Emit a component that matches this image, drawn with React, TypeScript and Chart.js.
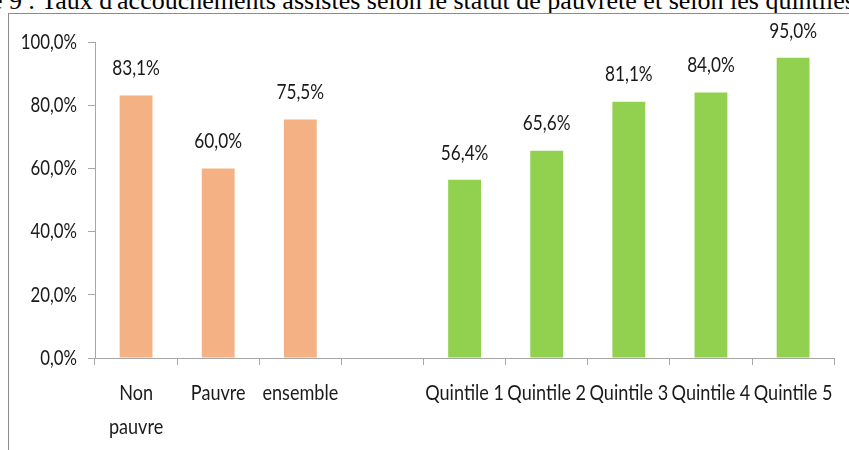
import React, { useEffect, useRef } from "react";
import { Chart, registerables } from "chart.js";

Chart.register(...registerables);

const categories: (string | string[])[] = [
  ["Non", "pauvre"],
  "Pauvre",
  "ensemble",
  "",
  "Quintile 1",
  "Quintile 2",
  "Quintile 3",
  "Quintile 4",
  "Quintile 5",
];
const values: (number | null)[] = [83.1, 60.0, 75.5, null, 56.4, 65.6, 81.1, 84.0, 95.0];
const barColors = ["#F4B183", "#F4B183", "#F4B183", "#F4B183", "#92D050", "#92D050", "#92D050", "#92D050", "#92D050"];
const yTicks = [0, 20, 40, 60, 80, 100];
const titlePrefix = "Graphique 9";
const titleText = ": Taux d'accouchements assistés selon le statut de pauvreté et selon les quintiles de bien-être";

const FONT = "Lato, 'DejaVu Sans', sans-serif";
const TEXT_COLOR = "#1a1a1a";

const fmt = (v: number) => v.toFixed(1).replace(".", ",") + "%";

function narrowText(ctx: CanvasRenderingContext2D, text: string, x: number, y: number, sx: number, align: CanvasTextAlign) {
  ctx.save();
  ctx.translate(x, y);
  ctx.scale(sx, 1);
  ctx.textAlign = align;
  ctx.fillText(text, 0, 0);
  ctx.restore();
}

const textPlugin = {
  id: "narrowTexts",
  afterDraw(chart: any) {
    const ctx: CanvasRenderingContext2D = chart.ctx;
    const xs = chart.scales.x;
    const ys = chart.scales.y;
    ctx.save();
    ctx.font = `21px ${FONT}`;
    ctx.fillStyle = TEXT_COLOR;
    ctx.textBaseline = "middle";
    const meta = chart.getDatasetMeta(0);
    meta.data.forEach((el: any, i: number) => {
      const v = values[i];
      if (v == null) return;
      narrowText(ctx, fmt(v), el.x, el.y - 27, 0.82, "center");
    });
    yTicks.forEach((v) => {
      narrowText(ctx, fmt(v), ys.left + ys.width - 18, ys.getPixelForValue(v), 0.8, "right");
    });
    categories.forEach((lab, i) => {
      const lines = Array.isArray(lab) ? lab : [lab];
      const cx = xs.getPixelForTick(i);
      lines.forEach((ln, k) => {
        narrowText(ctx, ln, cx, xs.top + 35 + k * 34, 0.86, "center");
      });
    });
    ctx.restore();
  },
};

export default function App() {
  const ref = useRef<HTMLCanvasElement | null>(null);
  useEffect(() => {
    if (!ref.current) return;
    const chart = new Chart(ref.current, {
      type: "bar",
      data: {
        labels: categories,
        datasets: [
          {
            data: values,
            backgroundColor: barColors,
            barPercentage: 0.4,
            categoryPercentage: 1,
          },
        ],
      },
      options: {
        animation: false,
        responsive: false,
        maintainAspectRatio: false,
        layout: { padding: { left: 8, right: 6, top: 42, bottom: 0 } },
        plugins: { legend: { display: false }, tooltip: { enabled: false } },
        scales: {
          x: {
            afterFit: (axis: any) => {
              axis.height = 92;
            },
            grid: {
              offset: true,
              drawOnChartArea: false,
              drawTicks: true,
              tickLength: 7,
              color: "#A6A6A6",
            },
            border: { color: "#A6A6A6", width: 1 },
            ticks: {
              autoSkip: false,
              maxRotation: 0,
              minRotation: 0,
              padding: 12,
              color: "rgba(0,0,0,0)",
              font: { family: FONT, size: 20, lineHeight: 1.7 },
            },
          },
          y: {
            min: 0,
            max: 100,
            afterBuildTicks: (axis: any) => {
              axis.ticks = yTicks.map((v) => ({ value: v }));
            },
            afterFit: (axis: any) => {
              axis.width = 87;
            },
            grid: {
              drawOnChartArea: false,
              drawTicks: true,
              tickLength: 7,
              color: "#A6A6A6",
            },
            border: { color: "#A6A6A6", width: 1 },
            ticks: {
              padding: 11,
              color: "rgba(0,0,0,0)",
              font: { family: FONT, size: 20 },
              callback: (v: any) => fmt(Number(v)),
            },
          },
        },
      },
      plugins: [textPlugin],
    });
    return () => chart.destroy();
  }, []);

  const titleStyle: React.CSSProperties = {
    position: "absolute",
    top: -12,
    whiteSpace: "nowrap",
    fontFamily: "'Liberation Serif', 'Times New Roman', serif",
    fontSize: 26,
    lineHeight: "25px",
    color: "#000",
  };

  return (
    <div style={{ position: "fixed", left: 0, top: 0, width: 849, height: 450, overflow: "hidden", background: "#fff" }}>
      <div style={{ ...titleStyle, right: 849 - 22, textAlign: "right" }}>{titlePrefix}</div>
      <div style={{ ...titleStyle, left: 28 }}>{titleText}</div>
      <div
        style={{
          position: "absolute",
          left: 8,
          top: 13,
          width: 1000,
          height: 1000,
          borderLeft: "1px solid #8C8C8C",
          borderTop: "1px solid #8C8C8C",
        }}
      />
      <canvas ref={ref} width={849} height={450} style={{ position: "absolute", left: 0, top: 0 }} />
    </div>
  );
}
